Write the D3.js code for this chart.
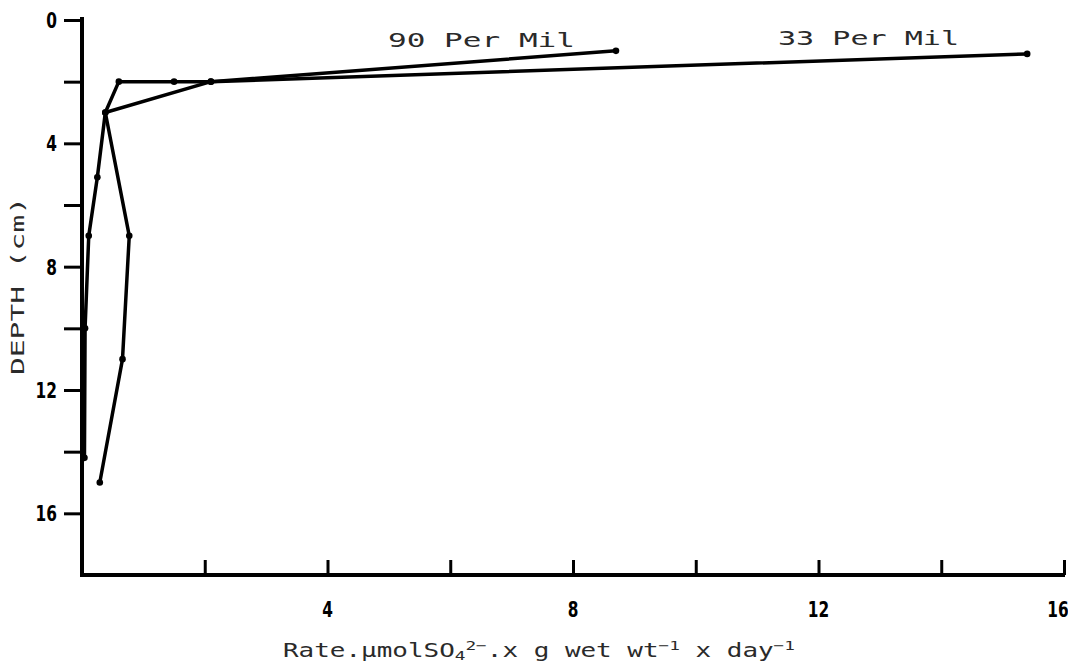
<!DOCTYPE html>
<html>
<head>
<meta charset="utf-8">
<script src="https://cdn.jsdelivr.net/npm/d3@7"></script>
<style>
  html, body { margin: 0; padding: 0; background: #fff; }
  svg { display: block; }
  .dm { font-family: "DejaVu Sans Mono", "Liberation Mono", monospace; fill: #2a2a2a; }
  .tl { font-family: "DejaVu Sans", sans-serif; font-weight: bold; fill: #000; }
</style>
</head>
<body>
<script>
// ---- data ----
const xTicks = [2, 4, 6, 8, 10, 12, 14, 16];
const xTickLabels = ["", "4", "", "8", "", "12", "", "16"];
const yTicks = [0, 2, 4, 6, 8, 10, 12, 14, 16];
const yTickLabels = ["0", "", "4", "", "8", "", "12", "", "16"];

const seriesNames = ["90 Per Mil", "33 Per Mil"];
const rate90 = [8.7, 2.1, 1.5, 0.6, 0.38, 0.77, 0.66, 0.29];
const depth90 = [1.0, 2.0, 2.0, 2.0, 3.0, 7.0, 11.0, 15.0];
const rate33 = [15.4, 2.1, 0.38, 0.25, 0.11, 0.05, 0.04];
const depth33 = [1.1, 2.0, 3.0, 5.1, 7.0, 10.0, 14.2];

const W = 1068, H = 667;
const svg = d3.select("body").append("svg").attr("width", W).attr("height", H);

const x = d3.scaleLinear().domain([0, 16]).range([82, 1064]);
const y = d3.scaleLinear().domain([0, 18]).range([20, 575]);

// axes
const yAxis = d3.axisLeft(y).tickValues(yTicks).tickSize(18).tickSizeOuter(0).tickFormat("");
const gy = svg.append("g").attr("transform", `translate(${x(0)},0)`).call(yAxis);
gy.select(".domain").attr("d", `M0,${y(0) - 3}V${y(18)}`).attr("stroke", "#000").attr("stroke-width", 4).attr("fill", "none");
gy.selectAll(".tick line").attr("stroke", "#000").attr("stroke-width", 3);

svg.append("g").selectAll("text").data(yTicks).join("text")
  .attr("class", "tl")
  .attr("transform", d => `translate(57,${y(d)}) scale(0.7,1)`)
  .attr("dy", "0.36em").attr("text-anchor", "end").style("font-size", "22px")
  .text((d, i) => yTickLabels[i]);

const xAxis = d3.axisTop(x).tickValues(xTicks).tickSize(15).tickSizeOuter(0).tickFormat("");
const gx = svg.append("g").attr("transform", `translate(0,${y(18)})`).call(xAxis);
gx.select(".domain").attr("d", `M${x(0) - 2},0H${x(16) + 1}`).attr("stroke", "#000").attr("stroke-width", 4).attr("fill", "none");
gx.selectAll(".tick line").attr("stroke", "#000").attr("stroke-width", 3);

svg.append("g").selectAll("text").data(xTicks).join("text")
  .attr("class", "tl")
  .attr("transform", d => `translate(${Math.min(x(d), W - 10)},${y(18) + 42}) scale(0.7,1)`)
  .attr("text-anchor", "middle").style("font-size", "22px")
  .text((d, i) => xTickLabels[i]);

// series
const line = d3.line().x(d => x(d[0])).y(d => y(d[1]));
const s90 = rate90.map((r, i) => [r, depth90[i]]);
const s33 = rate33.map((r, i) => [r, depth33[i]]);
[s90, s33].forEach(s => {
  svg.append("path").datum(s).attr("d", line)
    .attr("fill", "none").attr("stroke", "#000").attr("stroke-width", 3.5)
    .attr("stroke-linejoin", "round").attr("stroke-linecap", "round");
  svg.append("g").selectAll("circle").data(s).join("circle")
    .attr("cx", d => x(d[0])).attr("cy", d => y(d[1])).attr("r", 3.3).attr("fill", "#000");
});

// series labels
svg.append("text").attr("class", "dm").attr("x", 388).attr("y", 47)
  .style("font-size", "19px").attr("textLength", 187).attr("lengthAdjust", "spacingAndGlyphs")
  .text(seriesNames[0]);
svg.append("text").attr("class", "dm").attr("x", 778).attr("y", 45)
  .style("font-size", "19px").attr("textLength", 181).attr("lengthAdjust", "spacingAndGlyphs")
  .text(seriesNames[1]);

// axis titles
svg.append("text").attr("class", "dm")
  .attr("transform", `translate(24,${(197 + 375) / 2}) rotate(-90)`)
  .attr("text-anchor", "middle").style("font-size", "18px")
  .attr("textLength", 178).attr("lengthAdjust", "spacingAndGlyphs")
  .text("DEPTH (cm)");

const xt = svg.append("text").attr("class", "dm").attr("x", 283).attr("y", 657)
  .style("font-size", "19px").attr("textLength", 512).attr("lengthAdjust", "spacingAndGlyphs");
xt.append("tspan").text("Rate.µmolSO");
xt.append("tspan").attr("dy", 3).style("font-size", "13px").text("4");
xt.append("tspan").attr("dy", -10).style("font-size", "13px").text("2−");
xt.append("tspan").attr("dy", 7).text(".x g wet wt");
xt.append("tspan").attr("dy", -7).style("font-size", "13px").text("−1");
xt.append("tspan").attr("dy", 7).text(" x day");
xt.append("tspan").attr("dy", -7).style("font-size", "13px").text("−1");
</script>
</body>
</html>
